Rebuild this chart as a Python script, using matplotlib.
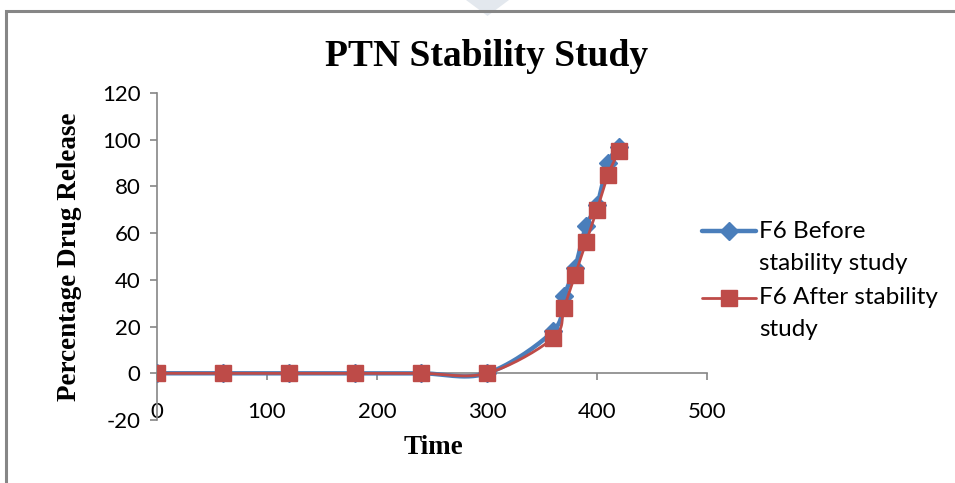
import numpy as np
import matplotlib
matplotlib.use("Agg")
import matplotlib.pyplot as plt
from matplotlib.lines import Line2D
from matplotlib.patches import Polygon

time = [0, 60, 120, 180, 240, 300, 360, 370, 380, 390, 400, 410, 420]
before = [0, 0, 0, 0, 0, 0, 18, 33, 45, 63, 72, 90, 97]
after = [0, 0, 0, 0, 0, 0, 15, 28, 42, 56, 70, 85, 95]
series_labels = ["F6 Before\nstability study", "F6 After stability\nstudy"]
title = "PTN Stability Study"
xlabel = "Time"
ylabel = "Percentage Drug Release"
xticks = [0, 100, 200, 300, 400, 500]
yticks = [-20, 0, 20, 40, 60, 80, 100, 120]

BLUE = "#4A7EBB"
RED = "#BE4B48"
GRAY = "#868686"


def smooth(xs, ys, n=30):
    """Excel-like smoothed line: cubic Bezier with Catmull-Rom control points."""
    P = np.column_stack([xs, ys]).astype(float)
    out = []
    for i in range(len(P) - 1):
        p0 = P[i - 1] if i > 0 else P[i]
        p1 = P[i]
        p2 = P[i + 1]
        p3 = P[i + 2] if i + 2 < len(P) else P[i + 1]
        c1 = p1 + (p2 - p0) / 6.0
        c2 = p2 - (p3 - p1) / 6.0
        t = np.linspace(0, 1, n)[:, None]
        seg = ((1 - t) ** 3) * p1 + 3 * ((1 - t) ** 2) * t * c1 + 3 * (1 - t) * t ** 2 * c2 + t ** 3 * p2
        out.append(seg if i == 0 else seg[1:])
    s = np.vstack(out)
    return s[:, 0], s[:, 1]


W, H = 955, 483
fig = plt.figure(figsize=(W / 100, H / 100), dpi=100)

# outer chart border and decoration
fig.patches.append(Polygon([[466 / W, 1], [509 / W, 1], [487.5 / W, 1 - 16 / H]], closed=True,
                           transform=fig.transFigure, facecolor="#E3E8EE", edgecolor="none"))
fig.add_artist(Line2D([6 / W, 6 / W, 1.0], [0, 1 - 11 / H, 1 - 11 / H], transform=fig.transFigure,
                      color=GRAY, linewidth=2.2, solid_joinstyle="miter"))

ax = fig.add_axes([157 / W, 1 - 420 / H, 550 / W, 327 / H])
ax.set_xlim(0, 500)
ax.set_ylim(-20, 120)

sx, sy = smooth(time, before)
ax.plot(sx, sy, color=BLUE, linewidth=3.2, solid_capstyle="round", zorder=3)
ax.plot(time, before, linestyle="none", marker="D", markersize=9, color=BLUE, zorder=4)
sx, sy = smooth(time, after)
ax.plot(sx, sy, color=RED, linewidth=2.0, solid_capstyle="round", zorder=5)
ax.plot(time, after, linestyle="none", marker="s", markersize=11.5, color=RED, zorder=6)

for s in ["top", "right"]:
    ax.spines[s].set_visible(False)
ax.spines["left"].set_position(("data", 0))
ax.spines["bottom"].set_position(("data", 0))
ax.spines["left"].set_color(GRAY)
ax.spines["bottom"].set_color(GRAY)
ax.spines["left"].set_linewidth(1.2)
ax.spines["bottom"].set_linewidth(1.2)

tick_font = dict(family=["Lato", "DejaVu Sans"], size=16)
ax.set_xticks(xticks)
ax.set_yticks(yticks)
ax.set_xticklabels([str(v) for v in xticks], **tick_font)
ax.set_yticklabels([str(v) for v in yticks], **tick_font)
ax.tick_params(axis="both", direction="out", length=5, color=GRAY, width=1.2)
ax.tick_params(axis="x", pad=16)
ax.tick_params(axis="y", pad=7)

fig.text(487 / W, 1 - 56 / H, title, ha="center", va="center",
         family="Liberation Serif", weight="bold", size=27)
fig.text(433 / W, 1 - 448 / H, xlabel, ha="center", va="center",
         family="Liberation Serif", weight="bold", size=19.5)
fig.text(70 / W, 1 - 257 / H, ylabel, ha="center", va="center", rotation=90,
         family="Liberation Serif", weight="bold", size=19.5)

# legend (drawn manually to align handles with first text line)
leg_font = dict(family=["Lato", "DejaVu Sans"], size=17.5)
fig.add_artist(Line2D([702 / W, 756 / W], [1 - 231 / H] * 2, transform=fig.transFigure,
                      color=BLUE, linewidth=3.2, solid_capstyle="round"))
fig.add_artist(Line2D([729 / W], [1 - 231 / H], transform=fig.transFigure,
                      marker="D", markersize=9, color=BLUE, linestyle="none"))
fig.add_artist(Line2D([702 / W, 756 / W], [1 - 298 / H] * 2, transform=fig.transFigure,
                      color=RED, linewidth=2.0, solid_capstyle="round"))
fig.add_artist(Line2D([729 / W], [1 - 298 / H], transform=fig.transFigure,
                      marker="s", markersize=11.5, color=RED, linestyle="none"))
l1 = series_labels[0].split("\n")
l2 = series_labels[1].split("\n")
fig.text(759 / W, 1 - 231 / H, l1[0], va="center", ha="left", **leg_font)
fig.text(759 / W, 1 - 263 / H, l1[1], va="center", ha="left", **leg_font)
fig.text(759 / W, 1 - 298 / H, l2[0], va="center", ha="left", **leg_font)
fig.text(759 / W, 1 - 329 / H, l2[1], va="center", ha="left", **leg_font)

fig.savefig("out.png", dpi=100)
